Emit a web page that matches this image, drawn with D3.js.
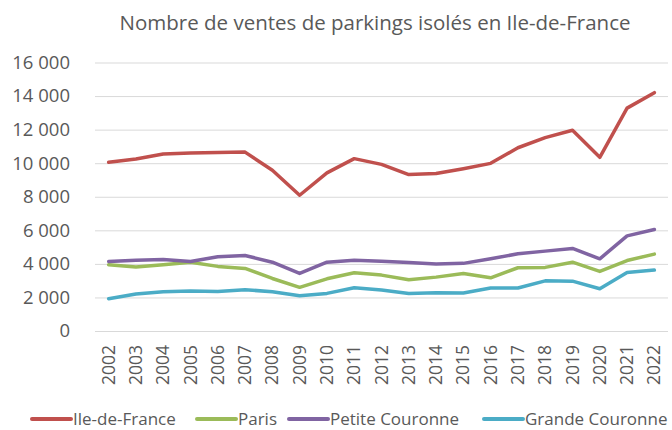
<!DOCTYPE html>
<html>
<head>
<meta charset="utf-8">
<script src="https://cdn.jsdelivr.net/npm/d3@7"></script>
<style>
  body { margin: 0; background: #fff; }
  text { font-family: "Open Sans", sans-serif; fill: #595959; }
</style>
</head>
<body>
<div id="container"></div>
<script>
// données
var years = ["2002","2003","2004","2005","2006","2007","2008","2009","2010","2011","2012",
             "2013","2014","2015","2016","2017","2018","2019","2020","2021","2022"];
var idf = [10050,10250,10550,10600,10630,10660,9580,8090,9420,10270,9930,
           9320,9380,9670,9990,10920,11520,11960,10350,13280,14200];
var paris = [3950,3810,3950,4100,3850,3730,3130,2600,3110,3470,3330,
             3050,3210,3430,3170,3770,3790,4100,3550,4200,4580];
var petite = [4140,4220,4260,4140,4420,4500,4100,3430,4100,4220,4150,
              4080,3990,4030,4300,4600,4760,4920,4300,5670,6050];
var grande = [1920,2200,2340,2380,2360,2460,2340,2100,2240,2580,2440,
              2240,2280,2260,2560,2560,2990,2970,2520,3490,3630];
var yTicks = [0,2000,4000,6000,8000,10000,12000,14000,16000];
var seriesNames = ["Ile-de-France","Paris","Petite Couronne","Grande Couronne"];
var colors = ["#C0504D","#9BBB59","#8064A2","#4BACC6"];

var series = [idf, paris, petite, grande];

var W = 672, H = 430;
var svg = d3.select("#container").append("svg")
  .attr("width", W)
  .attr("height", H);

var x = d3.scaleBand().domain(years).range([95, 668]);
var y = d3.scaleLinear().domain([0, 16000]).range([331, 62.5]);

var fmt = function(d){ return d3.format(",")(d).replace(",", " "); };

// titre
svg.append("text")
  .attr("x", 375)
  .attr("y", 30)
  .attr("text-anchor", "middle")
  .style("font-size", "20.5px")
  .text("Nombre de ventes de parkings isolés en Ile-de-France");

// grille + axe y
var yAxis = d3.axisLeft(y)
  .tickValues(yTicks)
  .tickSize(-(668 - 95))
  .tickPadding(25)
  .tickFormat(fmt);

var gy = svg.append("g")
  .attr("transform", "translate(95,0)")
  .call(yAxis);
gy.select(".domain").remove();
gy.selectAll(".tick line").attr("stroke", "#d9d9d9").attr("stroke-width", 1);
gy.selectAll(".tick text").style("font-size", "18.5px").attr("fill", "#595959");

// axe x
var xAxis = d3.axisBottom(x).tickSize(0).tickPadding(0);
var gx = svg.append("g")
  .attr("transform", "translate(0,331)")
  .call(xAxis);
gx.select(".domain").remove();
gx.selectAll(".tick text")
  .style("font-size", "17.5px")
  .attr("fill", "#595959")
  .attr("text-anchor", "end")
  .attr("dy", null)
  .attr("y", 0)
  .attr("transform", "translate(6,14) rotate(-90)");

// courbes
var line = d3.line()
  .x(function(d, i){ return x(years[i]) + x.bandwidth() / 2; })
  .y(function(d){ return y(d); });

svg.append("g").selectAll("path")
  .data(series)
  .enter()
  .append("path")
  .attr("d", line)
  .attr("fill", "none")
  .attr("stroke", function(d, i){ return colors[i]; })
  .attr("stroke-width", 3.5)
  .attr("stroke-linejoin", "round")
  .attr("stroke-linecap", "round");

// légende
var legendX = [32, 197, 289, 484];
var legend = svg.append("g").selectAll("g")
  .data(seriesNames)
  .enter()
  .append("g")
  .attr("transform", function(d, i){ return "translate(" + legendX[i] + ",419)"; });

legend.append("line")
  .attr("x1", 0).attr("x2", 39)
  .attr("stroke", function(d, i){ return colors[i]; })
  .attr("stroke-width", 4)
  .attr("stroke-linecap", "round");

legend.append("text")
  .attr("x", 41)
  .attr("dy", "0.33em")
  .style("font-size", "17px")
  .text(function(d){ return d; });
</script>
</body>
</html>
